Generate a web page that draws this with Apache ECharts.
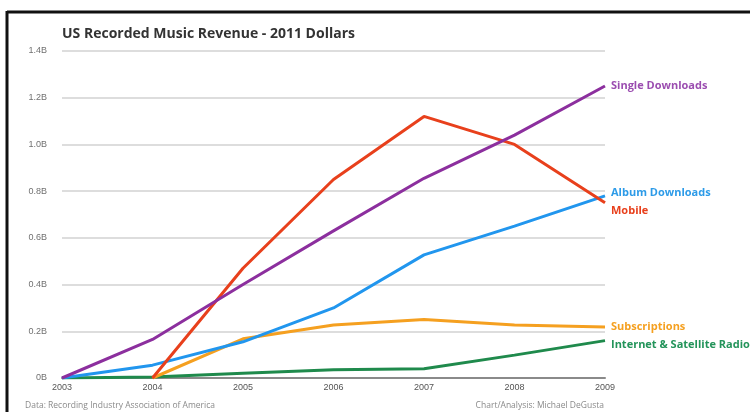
<!DOCTYPE html>
<html>
<head>
<meta charset="utf-8">
<script src="https://cdn.jsdelivr.net/npm/echarts@6/dist/echarts.min.js"></script>
<style>html,body{margin:0;padding:0;background:#fff;}#c{width:750px;height:412px;}</style>
</head>
<body>
<div id="c"></div>
<script>
var years = ['2003','2004','2005','2006','2007','2008','2009'];
var yTickLabels = ['0B','0.2B','0.4B','0.6B','0.8B','1.0B','1.2B','1.4B'];
var singleDownloads = [0, 0.165, 0.40, 0.63, 0.855, 1.04, 1.25];
var albumDownloads = [0, 0.055, 0.155, 0.30, 0.527, 0.65, 0.78];
var mobile = [null, 0, 0.47, 0.85, 1.12, 1.0, 0.75];
var subscriptions = [null, 0, 0.168, 0.227, 0.25, 0.227, 0.218];
var radio = [0, 0.004, 0.02, 0.035, 0.04, 0.098, 0.16];

var chart = echarts.init(document.getElementById('c'), null, {renderer:'canvas'});
function mk(name, data, color, labelColor, dy) {
  return {
    name: name, type: 'line', data: data, symbol: 'none', smooth: false,
    lineStyle: {color: color, width: 3}, itemStyle: {color: color},
    endLabel: {show: true, formatter: name, color: labelColor, fontFamily: 'Open Sans',
      fontWeight: 'bold', fontSize: 11, distance: 6, offset: [0, dy]},
    emphasis: {disabled: true}
  };
}
chart.setOption({
  animation: false,
  backgroundColor: '#fff',
  title: {text: 'US Recorded Music Revenue - 2011 Dollars', left: 57, top: 22,
    textStyle: {fontFamily: 'Open Sans', fontSize: 14, fontWeight: 'bold', color: '#333'}},
  grid: {left: 62, right: 145, top: 51, bottom: 34, containLabel: false},
  xAxis: {type: 'category', data: years, boundaryGap: false,
    axisLine: {show: true, lineStyle: {color: '#8a8a8a', width: 2}},
    axisTick: {show: false},
    axisLabel: {color: '#555', fontFamily: 'Liberation Sans', fontSize: 9, margin: 5},
    splitLine: {show: false}},
  yAxis: {type: 'value', min: 0, max: 1.4, interval: 0.2,
    axisLine: {show: false}, axisTick: {show: false},
    axisLabel: {color: '#707070', fontFamily: 'Liberation Sans', fontSize: 9, margin: 15,
      formatter: function (v) { return yTickLabels[Math.round(v / 0.2)]; }},
    splitLine: {lineStyle: {color: '#d2d2d2', width: 1.5}}},
  graphic: [
    {type: 'line', shape: {x1: 7, y1: 12, x2: 750, y2: 12}, style: {stroke: '#111', lineWidth: 3}},
    {type: 'line', shape: {x1: 7, y1: 11, x2: 7, y2: 412}, style: {stroke: '#111', lineWidth: 3}},
    {type: 'text', left: 25, top: 401, style: {text: 'Data: Recording Industry Association of America',
      fill: '#8a8a8a', font: '8.5px "Open Sans"'}},
    {type: 'text', right: 146, top: 401, style: {text: 'Chart/Analysis: Michael DeGusta',
      fill: '#8a8a8a', font: '8.5px "Open Sans"', textAlign: 'right'}}
  ],
  series: [
    mk('Internet & Satellite Radio', radio, '#1f8a4c', '#23945a', 4),
    mk('Subscriptions', subscriptions, '#f5a020', '#f5a020', 0),
    mk('Album Downloads', albumDownloads, '#2196ee', '#2d9be8', -3),
    mk('Mobile', mobile, '#e8401c', '#e8401c', 8),
    mk('Single Downloads', singleDownloads, '#8c2f9e', '#9b4db0', 0)
  ]
});
</script>
</body>
</html>
